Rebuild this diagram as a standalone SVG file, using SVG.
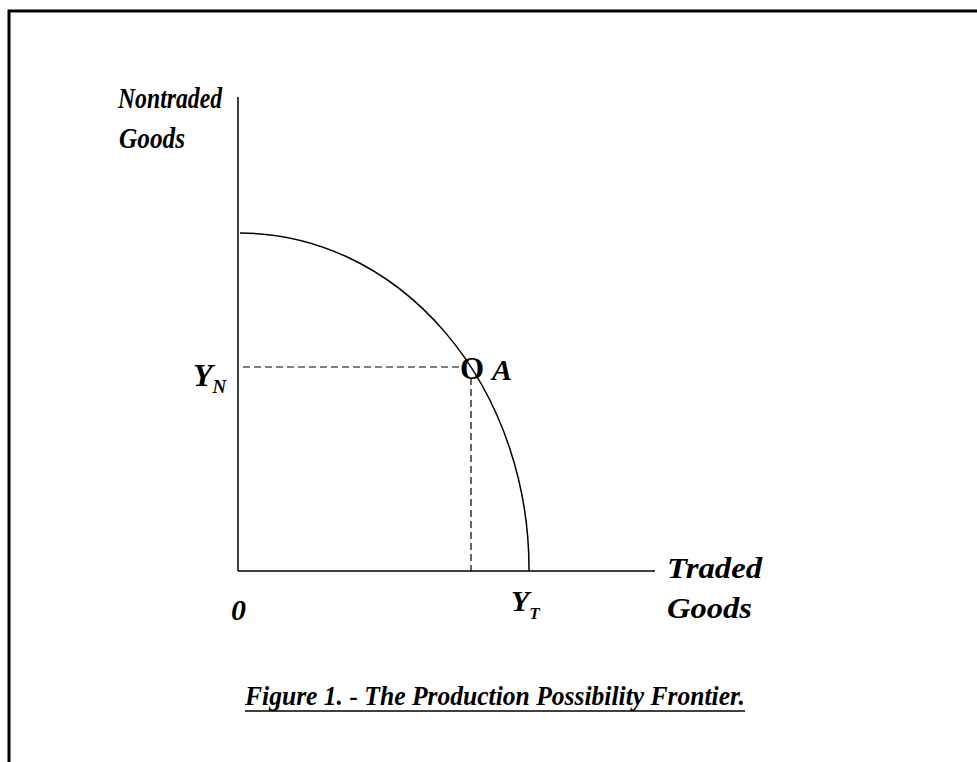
<svg xmlns="http://www.w3.org/2000/svg" width="977" height="762" viewBox="0 0 977 762">
<style>
.t{font-family:"Liberation Serif","Times New Roman",serif;font-weight:bold;font-style:italic;fill:#000}
.ax{stroke:#000;stroke-width:1.5;fill:none}
.dash{stroke:#000;stroke-width:1.2;stroke-dasharray:7 4;fill:none}
</style>
<rect width="977" height="762" fill="#fff"/>
<g id="frame"><polyline points="977,11 9,11 9,762" fill="none" stroke="#000" stroke-width="3"/></g>
<g id="connectors">
<line class="ax" x1="238" y1="97" x2="238" y2="571"/>
<line class="ax" x1="238" y1="571" x2="655" y2="571" stroke-width="1"/>
<path class="ax" d="M 240 233 A 289 336 0 0 1 529 571" stroke-width="1.2"/>
<line class="dash" x1="243" y1="367" x2="464" y2="367"/>
<line class="dash" x1="471" y1="378" x2="471" y2="571"/>
</g>
<g id="yaxis-label"><text class="t" x="118" y="108" font-size="29" textLength="104" lengthAdjust="spacingAndGlyphs">Nontraded</text>
<text class="t" x="119" y="148" font-size="29" textLength="66" lengthAdjust="spacingAndGlyphs">Goods</text></g>
<g id="xaxis-label"><text class="t" x="667" y="578" font-size="30" textLength="95" lengthAdjust="spacingAndGlyphs">Traded</text>
<text class="t" x="667" y="618" font-size="30" textLength="85" lengthAdjust="spacingAndGlyphs">Goods</text></g>
<g id="point-A"><text x="472" y="379" font-family="Liberation Serif,serif" font-weight="bold" font-size="31" text-anchor="middle">O</text>
<text class="t" x="492" y="380" font-size="30">A</text></g>
<g id="YN"><text class="t" x="193" y="386" font-size="32">Y<tspan font-size="19" dy="7">N</tspan></text></g>
<g id="YT"><text class="t" x="511" y="611" font-size="30">Y<tspan font-size="17" dy="8">T</tspan></text></g>
<g id="origin"><text class="t" x="231" y="620" font-size="30">0</text></g>
<g id="title"><text class="t" x="245" y="705" font-size="28" textLength="500" lengthAdjust="spacingAndGlyphs">Figure 1. - The Production Possibility Frontier.</text>
<line x1="245" y1="711" x2="745" y2="711" stroke="#000" stroke-width="1.5"/></g>
</svg>
